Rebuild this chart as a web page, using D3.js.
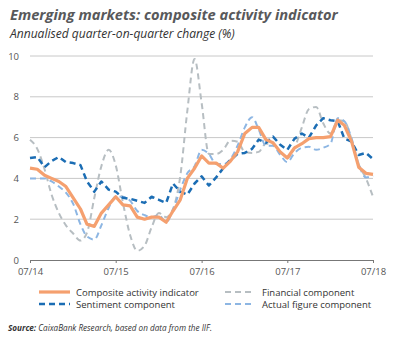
<!DOCTYPE html>
<html><head><meta charset="utf-8">
<script src="https://cdn.jsdelivr.net/npm/d3@7"></script>
<style>
html,body{margin:0;padding:0;background:#fff;}
svg{display:block;}
</style></head>
<body>
<svg id="chart" width="397" height="338"></svg>
<script>
// Monthly observations, Jul 2014 .. Jul 2018
const startMonth = new Date(2014, 6, 1);
const composite = [4.5,4.45,4.15,4.0,3.85,3.6,3.05,2.5,1.75,1.65,2.3,2.7,3.1,2.7,2.65,2.1,2.0,2.1,2.1,1.85,2.4,2.95,4.0,4.5,5.1,4.75,4.75,4.5,4.85,5.3,6.2,6.5,6.5,5.9,5.75,5.3,5.0,5.5,5.7,5.95,6.0,6.0,6.05,6.85,6.6,5.8,4.55,4.25,4.2];
const sentiment = [5.0,5.05,4.55,4.85,5.05,4.8,4.75,4.65,3.85,3.35,3.85,3.45,3.35,3.05,3.0,2.9,2.8,3.1,2.95,2.8,3.75,3.35,3.2,3.75,4.1,3.65,4.05,4.5,4.9,5.2,5.25,5.45,5.9,5.75,6.05,5.65,5.4,5.95,6.2,6.0,6.6,6.95,6.85,6.8,5.95,5.8,5.15,5.25,4.95];
const financial = [5.9,5.45,4.45,3.2,2.3,1.7,1.3,0.95,1.35,3.05,4.6,5.4,4.65,2.8,1.2,0.45,0.7,1.6,2.3,2.1,2.5,4.1,7.3,9.85,7.7,5.2,5.2,5.4,5.85,5.8,5.3,5.25,5.3,5.7,5.7,5.3,5.0,5.5,6.5,7.4,7.5,6.7,6.2,6.85,6.8,5.9,4.7,4.0,3.1];
const actual = [4.0,4.0,4.0,3.85,3.6,3.3,2.75,1.75,1.15,1.0,1.7,2.55,3.1,3.1,2.9,2.4,2.2,2.1,2.2,1.85,2.45,3.45,4.25,4.6,5.4,5.2,4.7,4.7,4.95,5.6,6.5,7.0,6.4,5.6,5.6,5.15,4.8,5.25,5.5,5.55,5.4,5.5,5.7,6.95,6.8,5.95,4.7,4.05,4.15];
const yTicks = [0,2,4,6,8,10];
const xTickLabels = ["07/14","07/15","07/16","07/17","07/18"];
const seriesNames = ["Composite activity indicator","Sentiment component","Financial component","Actual figure component"];

(function(){
const dates = composite.map((_, i) => new Date(startMonth.getFullYear(), startMonth.getMonth() + i, 1));
const xTickDates = xTickLabels.map(l => new Date(2000 + +l.slice(3), +l.slice(0,2) - 1, 1));

const svg = d3.select("#chart");
const pLeft = 30, pRight = 373, pTop = 56, pBottom = 260;

const x = d3.scaleTime().domain([dates[0], dates[dates.length-1]]).range([pLeft, pRight]);
const y = d3.scaleLinear().domain([0, 10]).range([pBottom, pTop]);

function fit(sel, w) {
  const n = sel.node();
  const fs = parseFloat(sel.attr("font-size"));
  const len = n.getComputedTextLength();
  sel.attr("font-size", (fs * w / len).toFixed(2));
}

const title = svg.append("text").attr("x", 10).attr("y", 20)
  .attr("font-family", "Open Sans").attr("font-weight", 700).attr("font-style", "italic")
  .attr("font-size", 16).attr("fill", "#58595b")
  .text("Emerging markets: composite activity indicator");
fit(title, 328);
const sub = svg.append("text").attr("x", 10).attr("y", 38)
  .attr("font-family", "Open Sans").attr("font-style", "italic")
  .attr("font-size", 12).attr("fill", "#333")
  .text("Annualised quarter-on-quarter change (%)");
fit(sub, 225);

svg.append("g").selectAll("line").data(yTicks.filter(d => d > 0)).join("line")
  .attr("x1", pLeft).attr("x2", pRight)
  .attr("y1", d => y(d)).attr("y2", d => y(d))
  .attr("stroke", "#c8c8c8").attr("stroke-width", 1);

const yAxis = d3.axisLeft(y).tickValues(yTicks).tickSize(0).tickPadding(0);
const yg = svg.append("g").attr("transform", `translate(${pLeft - 11},0)`).call(yAxis);
yg.select(".domain").remove();
yg.selectAll("text").attr("font-family", "Open Sans").attr("font-size", 9.5).attr("fill", "#555");

const xAxis = d3.axisBottom(x).tickValues(xTickDates).tickFormat((d, i) => xTickLabels[i]).tickSize(3).tickSizeOuter(0).tickPadding(5);
const xg = svg.append("g").attr("transform", `translate(0,${pBottom})`).call(xAxis);
xg.select(".domain").attr("stroke", "#777").attr("stroke-width", 1.2);
xg.selectAll(".tick line").attr("stroke", "#777");
xg.selectAll("text").attr("font-family", "Open Sans").attr("font-size", 9.5).attr("fill", "#555");

const lineLinear = d3.line().x((d, i) => x(dates[i])).y(d => y(d));
const lineSmooth = d3.line().x((d, i) => x(dates[i])).y(d => y(d)).curve(d3.curveMonotoneX);

const styles = [
  {data: financial, color: "#b7bec2", w: 2, dash: "6,4", gen: lineSmooth},
  {data: actual, color: "#8db6e3", w: 2, dash: "6,4", gen: lineSmooth},
  {data: sentiment, color: "#1b6db4", w: 2.5, dash: "6,4", gen: lineLinear},
  {data: composite, color: "#f5a06f", w: 3.2, dash: null, gen: lineLinear}
];
styles.forEach(s => {
  svg.append("path").attr("d", s.gen(s.data)).attr("fill", "none")
    .attr("stroke", s.color).attr("stroke-width", s.w)
    .attr("stroke-dasharray", s.dash).attr("stroke-linejoin", "round");
});

const legendItems = [
  {name: seriesNames[0], color: "#f5a06f", w: 3.2, dash: null, lx: 39, ly: 292},
  {name: seriesNames[1], color: "#1b6db4", w: 2.5, dash: "6,4", lx: 39, ly: 304},
  {name: seriesNames[2], color: "#b7bec2", w: 2, dash: "6,4", lx: 225, ly: 292},
  {name: seriesNames[3], color: "#8db6e3", w: 2, dash: "6,4", lx: 225, ly: 304}
];
const lg = svg.append("g");
legendItems.forEach(it => {
  lg.append("line").attr("x1", it.lx).attr("x2", it.lx + (it.lx < 100 ? 31 : 28))
    .attr("y1", it.ly).attr("y2", it.ly)
    .attr("stroke", it.color).attr("stroke-width", it.w).attr("stroke-dasharray", it.dash);
  lg.append("text").attr("x", it.lx < 100 ? 76 : 262).attr("y", it.ly + 3.5)
    .attr("font-family", "Open Sans").attr("font-size", 9.5).attr("fill", "#333")
    .text(it.name);
});

const src = svg.append("text").attr("x", 8).attr("y", 331)
  .attr("font-family", "Open Sans").attr("font-style", "italic").attr("font-size", 9).attr("fill", "#333");
src.append("tspan").attr("font-weight", 700).text("Source:");
src.append("tspan").text(" CaixaBank Research, based on data from the IIF.");
fit(src, 204);
})();
</script>
</body></html>
